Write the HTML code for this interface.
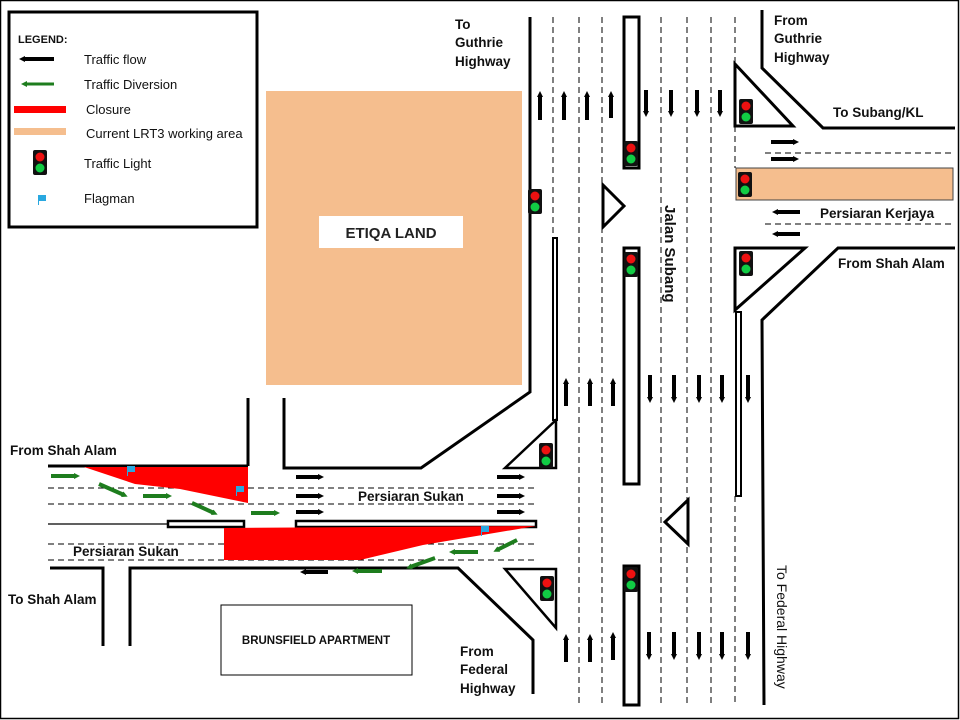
<!DOCTYPE html>
<html><head><meta charset="utf-8"><style>
html,body{margin:0;padding:0;background:#fff}
svg{display:block}
text{font-family:"Liberation Sans",sans-serif;font-weight:bold;fill:#111}
</style></head><body>
<svg width="960" height="720" viewBox="0 0 960 720" xmlns="http://www.w3.org/2000/svg">
<defs>
<marker id="ah" markerUnits="userSpaceOnUse" markerWidth="8" markerHeight="8" refX="2" refY="4" orient="auto"><path d="M0,1 L6,4 L0,7 Z" fill="#000"/></marker>
<marker id="gh" markerUnits="userSpaceOnUse" markerWidth="8" markerHeight="8" refX="2" refY="4" orient="auto"><path d="M0,1 L6,4 L0,7 Z" fill="#1e7d1e"/></marker>
<g id="tl"><rect x="-7" y="-12" width="14" height="25" rx="2" fill="#111"/><circle cx="0" cy="-5" r="4.5" fill="#e11"/><circle cx="0" cy="6" r="4.5" fill="#1c4"/></g>
<g id="fl"><path d="M0,0 h8 v6 h-7 v4 h-1 z" fill="#29a8e0"/></g>
</defs>
<rect x="0.5" y="0.5" width="958" height="718" fill="#fff" stroke="#000" stroke-width="1.5"/>

<!-- Legend -->
<rect x="9" y="12" width="248" height="215" fill="#fff" stroke="#000" stroke-width="3"/>
<text x="18" y="43" font-size="11">LEGEND:</text>
<line x1="54" y1="59" x2="23" y2="59" stroke="#000" stroke-width="4" marker-end="url(#ah)"/>
<line x1="54" y1="84" x2="25" y2="84" stroke="#1e7d1e" stroke-width="3" marker-end="url(#gh)"/>
<rect x="14" y="106" width="52" height="7" fill="#f00"/>
<rect x="14" y="128" width="52" height="7" fill="#f5be8e"/>
<use href="#tl" x="40" y="162"/>
<use href="#fl" x="38" y="195"/>
<g font-size="13"><text x="84" y="64" style="font-weight:normal">Traffic flow</text><text x="84" y="89" style="font-weight:normal">Traffic Diversion</text><text x="86" y="114" style="font-weight:normal">Closure</text><text x="86" y="138" style="font-weight:normal">Current LRT3 working area</text><text x="84" y="168" style="font-weight:normal">Traffic Light</text><text x="84" y="203" style="font-weight:normal">Flagman</text></g>

<!-- Etiqa land -->
<rect x="266" y="91" width="256" height="294" fill="#f5be8e"/>
<rect x="319" y="216" width="144" height="32" fill="#fff"/>
<text x="391" y="238" font-size="15" text-anchor="middle" style="fill:#222">ETIQA LAND</text>

<!-- orange on Kerjaya -->
<rect x="736" y="168" width="217" height="32" fill="#f5be8e" stroke="#444" stroke-width="1"/>

<g fill="none" stroke="#000" stroke-width="3">
<polyline points="530,17 530,392 421,468 284,468 284,398"/>
<line x1="248" y1="398" x2="248" y2="466"/>
<line x1="48" y1="466" x2="248" y2="466"/>
<polyline points="50,568 103,568 103,646"/>
<polyline points="130,646 130,568 458,568 533,640 533,694"/>
<polygon points="505,468 556,420 556,468" stroke-width="2.5"/>
<polygon points="505,569 556,569 556,628" stroke-width="2.5"/>
<rect x="553" y="238" width="4" height="182" stroke-width="2"/>
<rect x="624" y="17" width="15" height="151"/>
<rect x="624" y="248" width="15" height="236"/>
<rect x="624" y="566" width="15" height="139"/>
<rect x="736" y="312" width="5" height="184" stroke-width="2"/>
<polygon points="603,185 624,206 603,227"/>
<polygon points="688,500 665,522 688,544"/>
<polyline points="762,10 762,68 823,128 955,128"/>
<polygon points="735,64 793,126 735,126"/>
<polygon points="735,248 805,248 735,310"/>
<polyline points="955,248 838,248 762,320 764,705"/>
<rect x="168" y="521" width="76" height="6" stroke-width="2.5"/>
<rect x="296" y="521" width="240" height="6" stroke-width="2.5"/>
</g>
<line x1="48" y1="524" x2="168" y2="524" stroke="#000" stroke-width="1.2"/>

<g stroke="#000" stroke-width="1" stroke-dasharray="6,4">
<line x1="553" y1="17" x2="553" y2="238"/>
<line x1="579" y1="17" x2="579" y2="705"/>
<line x1="602" y1="17" x2="602" y2="705"/>
<line x1="661" y1="17" x2="661" y2="705"/>
<line x1="687" y1="17" x2="687" y2="705"/>
<line x1="711" y1="17" x2="711" y2="705"/>
<line x1="735" y1="17" x2="735" y2="64"/>
<line x1="735" y1="126" x2="735" y2="168"/>
<line x1="735" y1="496" x2="735" y2="705"/>
<line x1="765" y1="153" x2="955" y2="153"/>
<line x1="765" y1="224" x2="955" y2="224"/>
<line x1="48" y1="488" x2="536" y2="488"/>
<line x1="48" y1="504" x2="536" y2="504"/>
<line x1="48" y1="544" x2="536" y2="544"/>
<line x1="48" y1="560" x2="536" y2="560"/>
</g>

<polygon points="84,467 248,467 248,503 180,489 135,484" fill="#f00"/>
<polygon points="224,528 536,526 423,545 360,560 224,560" fill="#f00"/>
<use href="#fl" x="127" y="466"/>
<use href="#fl" x="236" y="486"/>
<use href="#fl" x="481" y="526"/>

<g stroke="#000" stroke-width="4" marker-end="url(#ah)">
<line x1="540" y1="120" x2="540" y2="95"/><line x1="564" y1="120" x2="564" y2="95"/><line x1="587" y1="120" x2="587" y2="95"/><line x1="611" y1="118" x2="611" y2="95"/>
<line x1="646" y1="90" x2="646" y2="113"/><line x1="671" y1="90" x2="671" y2="113"/><line x1="697" y1="90" x2="697" y2="113"/><line x1="720" y1="90" x2="720" y2="113"/>
<line x1="566" y1="406" x2="566" y2="382"/><line x1="590" y1="406" x2="590" y2="382"/><line x1="613" y1="406" x2="613" y2="382"/>
<line x1="650" y1="375" x2="650" y2="399"/><line x1="674" y1="375" x2="674" y2="399"/><line x1="699" y1="375" x2="699" y2="399"/><line x1="722" y1="375" x2="722" y2="399"/><line x1="748" y1="375" x2="748" y2="399"/>
<line x1="566" y1="662" x2="566" y2="638"/><line x1="590" y1="662" x2="590" y2="638"/><line x1="613" y1="660" x2="613" y2="636"/>
<line x1="649" y1="632" x2="649" y2="656"/><line x1="674" y1="632" x2="674" y2="656"/><line x1="699" y1="632" x2="699" y2="656"/><line x1="722" y1="632" x2="722" y2="656"/><line x1="748" y1="632" x2="748" y2="656"/>
<line x1="771" y1="142" x2="795" y2="142"/><line x1="771" y1="159" x2="795" y2="159"/>
<line x1="800" y1="212" x2="776" y2="212"/><line x1="800" y1="234" x2="776" y2="234"/>
<line x1="296" y1="477" x2="320" y2="477"/><line x1="296" y1="496" x2="320" y2="496"/><line x1="296" y1="512" x2="320" y2="512"/>
<line x1="497" y1="477" x2="521" y2="477"/><line x1="497" y1="496" x2="521" y2="496"/><line x1="497" y1="512" x2="521" y2="512"/>
<line x1="328" y1="572" x2="304" y2="572"/>
</g>
<g stroke="#1e7d1e" stroke-width="4" marker-end="url(#gh)">
<line x1="51" y1="476" x2="76" y2="476"/>
<line x1="99" y1="484" x2="124" y2="495"/>
<line x1="143" y1="496" x2="168" y2="496"/>
<line x1="192" y1="503" x2="214" y2="513"/>
<line x1="251" y1="513" x2="276" y2="513"/>
<line x1="517" y1="540" x2="497" y2="550"/>
<line x1="478" y1="552" x2="453" y2="552"/>
<line x1="435" y1="558" x2="410" y2="567"/>
<line x1="382" y1="571" x2="356" y2="571"/>
</g>

<use href="#tl" x="631" y="153"/>
<use href="#tl" x="631" y="264"/>
<use href="#tl" x="631" y="579"/>
<use href="#tl" x="535" y="201"/>
<use href="#tl" x="546" y="455"/>
<use href="#tl" x="547" y="588"/>
<use href="#tl" x="746" y="111"/>
<use href="#tl" x="745" y="184"/>
<use href="#tl" x="746" y="263"/>

<rect x="221" y="605" width="191" height="70" fill="#fff" stroke="#000" stroke-width="1"/>
<text x="316" y="644" font-size="11.5" text-anchor="middle">BRUNSFIELD APARTMENT</text>

<g font-size="13.5">
<text x="455" y="29">To</text><text x="455" y="47">Guthrie</text><text x="455" y="66">Highway</text>
<text x="774" y="25">From</text><text x="774" y="43">Guthrie</text><text x="774" y="62">Highway</text>
<text x="833" y="117">To Subang/KL</text>
<text x="820" y="218">Persiaran Kerjaya</text>
<text x="838" y="268">From Shah Alam</text>
<text x="10" y="455">From Shah Alam</text>
<text x="8" y="604">To Shah Alam</text>
<text x="358" y="501">Persiaran Sukan</text>
<text x="73" y="556">Persiaran Sukan</text>
<text x="460" y="656">From</text><text x="460" y="674">Federal</text><text x="460" y="693">Highway</text>
<text transform="translate(665,205) rotate(90)" font-size="15">Jalan Subang</text>
<text transform="translate(777,565) rotate(90)" font-size="14" style="font-weight:normal">To Federal Highway</text>
</g>
</svg>
</body></html>
